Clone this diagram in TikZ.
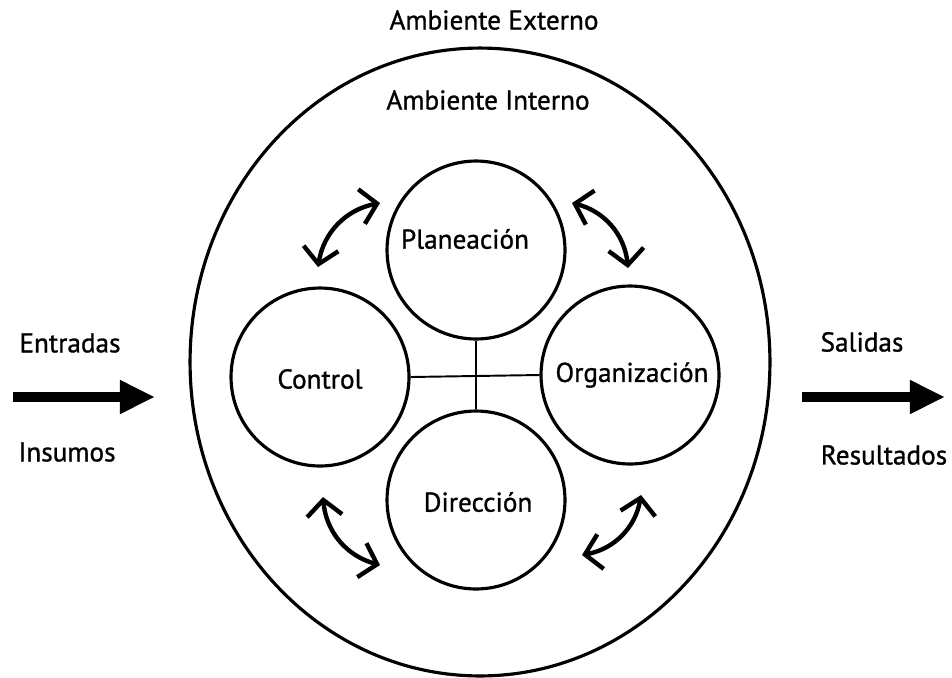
\documentclass[tikz,border=0pt]{standalone}
\usepackage{fontspec}
\setmainfont{PT Sans}[FakeBold=1]
\usetikzlibrary{arrows.meta,shapes.geometric}
\begin{document}
\begin{tikzpicture}[x=0.02cm,y=-0.02cm,
  circ/.style={circle,draw,line width=1.8pt,minimum size=3.56cm,inner sep=0pt},
  lbl/.style={font=\fontsize{15.5}{17}\selectfont,inner sep=0pt},
  dbl/.style={line width=2.5pt,{Straight Barb[length=9pt,width=20pt]}-{Straight Barb[length=9pt,width=20pt]}},
  big/.style={line width=5.5pt,-{Triangle[length=20pt,width=18pt]}}]
\useasboundingbox (0,0) rectangle (952,677);
\node[ellipse,draw,line width=1.8pt,minimum width=11.6cm,minimum height=12.56cm,inner sep=0pt] (ext) at (480,362) {};
\node[lbl] (tExt) at (494,20) {Ambiente Externo};
\node[lbl] (tInt) at (488,100) {Ambiente Interno};
\node[circ] (plan) at (476,250) {};
\node[circ] (ctrl) at (320,377) {};
\node[circ] (org) at (630,375) {};
\node[circ] (dir) at (476,500) {};
\node[lbl] (tPlan) at (465,239) {Planeación};
\node[lbl] (tCtrl) at (320,379) {Control};
\node[lbl] (tOrg) at (632,375) {Organización};
\node[lbl] (tDir) at (478,502) {Dirección};
\draw[line width=1.1pt] (ctrl.east) -- (org.west);
\draw[line width=1.1pt] (plan.south) -- (dir.north);
\coordinate (tlA) at (318,267); \coordinate (tlB) at (380,203);
\coordinate (trA) at (572,203); \coordinate (trB) at (628,268);
\coordinate (blA) at (323,497); \coordinate (blB) at (380,565);
\coordinate (brA) at (582,555); \coordinate (brB) at (641,495);
\draw[dbl] (tlA) to[bend left=35] (tlB);
\draw[dbl] (trA) to[bend left=35] (trB);
\draw[dbl] (blA) to[bend right=35] (blB);
\draw[dbl] (brA) to[bend right=35] (brB);
\coordinate (inS) at (13,397); \coordinate (inE) at (155,397);
\coordinate (outS) at (802,397); \coordinate (outE) at (945,397);
\draw[big] (inS) -- (inE);
\draw[big] (outS) -- (outE);
\node[lbl] (tEnt) at (70,343) {Entradas};
\node[lbl] (tIns) at (67,452) {Insumos};
\node[lbl] (tSal) at (862,342) {Salidas};
\node[lbl] (tRes) at (884,455) {Resultados};
\end{tikzpicture}
\end{document}
